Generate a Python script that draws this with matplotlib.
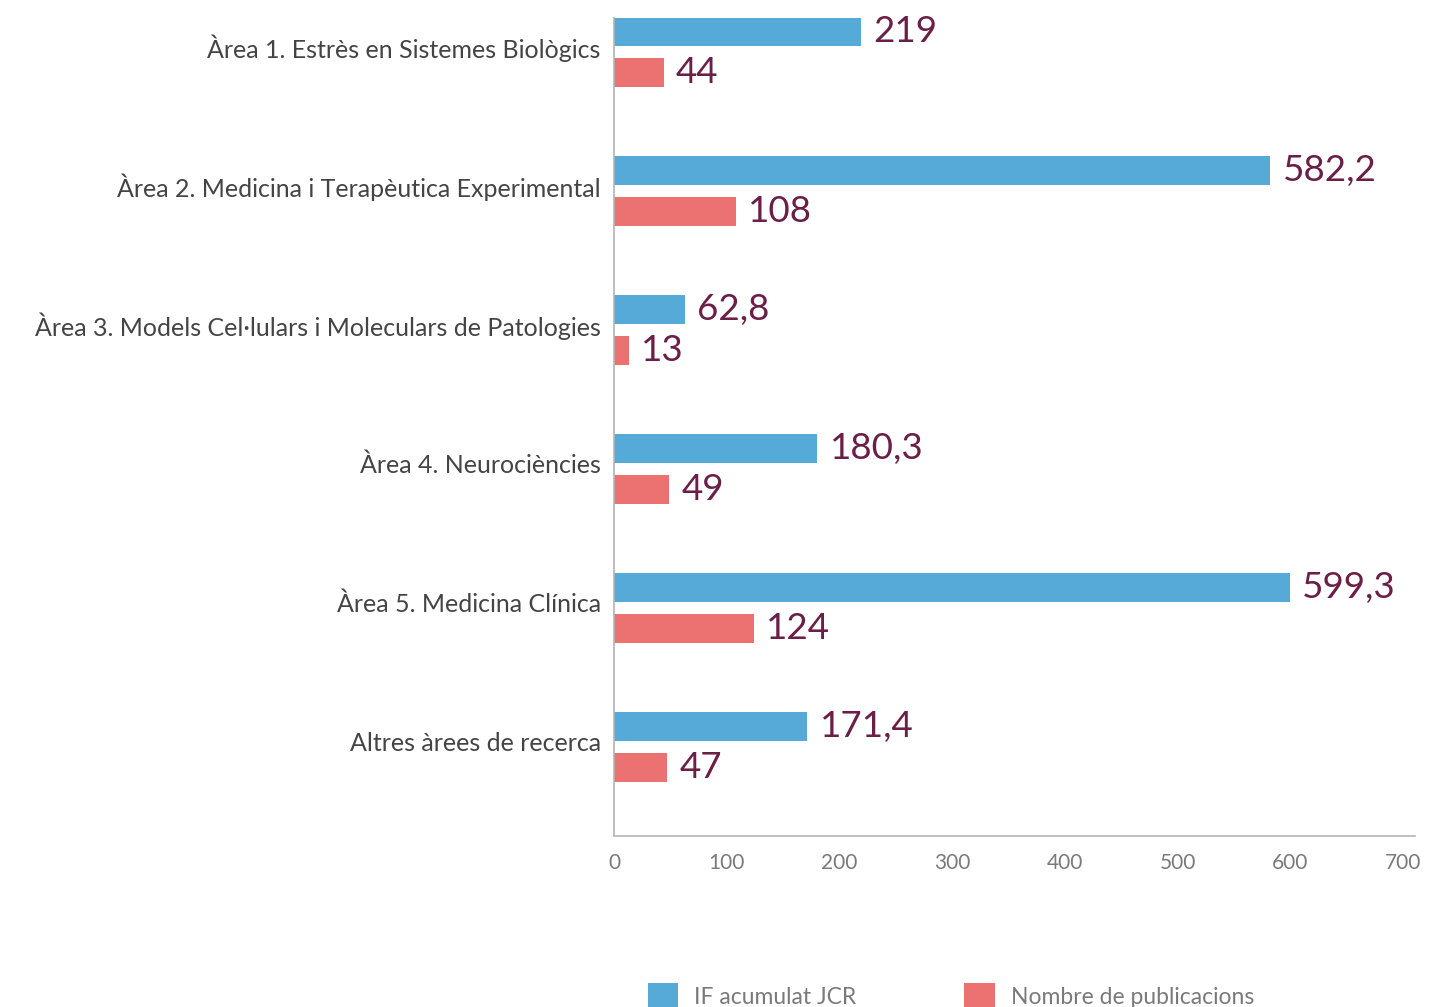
import matplotlib.pyplot as plt
import numpy as np

plt.rcParams["font.family"] = ["Lato", "DejaVu Sans"]

categories = [
    "Àrea 1. Estrès en Sistemes Biològics",
    "Àrea 2. Medicina i Terapèutica Experimental",
    "Àrea 3. Models Cel·lulars i Moleculars de Patologies",
    "Àrea 4. Neurociències",
    "Àrea 5. Medicina Clínica",
    "Altres àrees de recerca",
]
if_jcr = [219, 582.2, 62.8, 180.3, 599.3, 171.4]
publicacions = [44, 108, 13, 49, 124, 47]
xticks = [0, 100, 200, 300, 400, 500, 600, 700]

BLUE = "#56aad8"
RED = "#ec7271"
VALUE_COLOR = "#6b1f47"


def fmt(v):
    return f"{v:g}".replace(".", ",")


fig = plt.figure(figsize=(14.43, 10.07), dpi=100)
ax = fig.add_axes([0.4255, 0.1698, 0.9806 - 0.4255, 0.9821 - 0.1698])

y = np.arange(len(categories))
off = 0.147
h = 0.21

ax.barh(y - off, if_jcr, height=h, color=BLUE, label="IF acumulat JCR")
ax.barh(y + off, publicacions, height=h, color=RED, label="Nombre de publicacions")

# value labels next to the bars
for yi, v in zip(y - off, if_jcr):
    ax.annotate(fmt(v), (v, yi), xytext=(9, 0), textcoords="offset points",
                va="center", ha="left", fontsize=26.5, color=VALUE_COLOR)
for yi, v in zip(y + off, publicacions):
    ax.annotate(fmt(v), (v, yi), xytext=(9, 0), textcoords="offset points",
                va="center", ha="left", fontsize=26.5, color=VALUE_COLOR)

ax.set_xlim(0, 710.6)
ax.set_ylim(5.64, -0.245)
ax.set_xticks(xticks)
ax.set_xticklabels([str(t) for t in xticks], fontsize=15, color="#7a7a7a")
# category labels sit a little above the group centre
ax.set_yticks(y - 0.04)
ax.set_yticklabels(categories, fontsize=18, color="#444444")
ax.tick_params(axis="y", length=0, pad=9.5)
ax.tick_params(axis="x", length=0, pad=12)

for side in ["top", "right"]:
    ax.spines[side].set_visible(False)
for side in ["left", "bottom"]:
    ax.spines[side].set_color("#b5b5b5")
    ax.spines[side].set_linewidth(1.2)

leg = fig.legend(loc="center", bbox_to_anchor=(0.659, 0.011), ncol=2,
                 frameon=False, fontsize=16.5, handlelength=1.32, handleheight=1.3,
                 handletextpad=0.7, columnspacing=4.7)
for t in leg.get_texts():
    t.set_color("#7a7a7a")

fig.savefig("out.png", dpi=100)
